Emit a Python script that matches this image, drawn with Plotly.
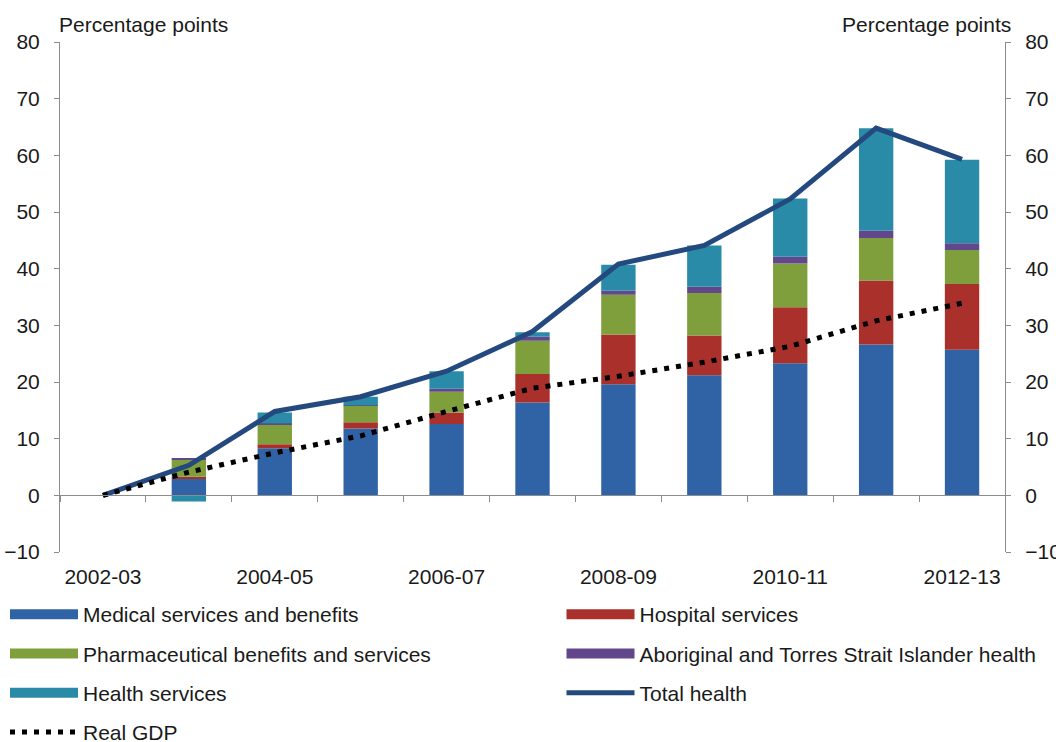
import plotly.graph_objects as go

# Financial years on the category axis
categories = ['2002-03', '2003-04', '2004-05', '2005-06', '2006-07', '2007-08',
              '2008-09', '2009-10', '2010-11', '2011-12', '2012-13']

# Contributions to growth in health spending (percentage points)
medical = [0, 2.9, 8.3, 11.8, 12.6, 16.4, 19.6, 21.2, 23.3, 26.6, 25.7]
hospital = [0, 0.4, 0.7, 1.1, 2.0, 5.0, 8.8, 7.0, 9.9, 11.3, 11.6]
pharma = [0, 3.0, 3.5, 2.9, 3.7, 5.9, 7.0, 7.5, 7.7, 7.5, 6.0]
aboriginal = [0, 0.2, 0.2, 0.1, 0.5, 0.7, 0.7, 1.1, 1.2, 1.3, 1.2]
health_services = [0, -1.1, 1.9, 1.5, 3.1, 0.8, 4.6, 7.3, 10.3, 18.1, 14.7]
total_health = [0, 5.3, 14.8, 17.4, 21.9, 28.9, 40.8, 44.1, 52.3, 64.8, 59.3]
real_gdp = [0, 4.1, 7.5, 10.5, 14.8, 18.9, 21.0, 23.5, 26.3, 30.8, 33.9]

shown_labels = [c if i % 2 == 0 else '' for i, c in enumerate(categories)]
y_ticks = [-10, 0, 10, 20, 30, 40, 50, 60, 70, 80]
y_range = [-10, 80]
x_range = [-0.5, len(categories) - 0.5]

FONT = 'Liberation Sans, Arial, sans-serif'
FS = 21
TXT = '#1a1a1a'
AXIS = '#8c8c8c'

bar_series = [
    ('Medical services and benefits', medical, '#3063A5', 'legend', 'med'),
    ('Hospital services', hospital, '#A9302B', 'legend2', 'hosp'),
    ('Pharmaceutical benefits and services', pharma, '#7E9F3C', 'legend', 'pharm'),
    ('Aboriginal and Torres Strait Islander health', aboriginal, '#62478C', 'legend2', 'abor'),
    ('Health services', health_services, '#2A8BA8', 'legend', 'hs'),
]

fig = go.Figure()

for name, vals, color, leg, grp in bar_series:
    fig.add_trace(go.Bar(
        x=categories, y=vals, name=name, marker=dict(color=color, line=dict(width=0)),
        showlegend=False, legendgroup=grp,
    ))

# Wide swatches for the bar series in the legend
for name, vals, color, leg, grp in bar_series:
    fig.add_trace(go.Scatter(
        x=[None], y=[None], mode='lines', name=name, legend=leg, legendgroup=grp,
        line=dict(color=color, width=10),
    ))

# Lines sit on the overlaid axes (bottom labels and right-hand scale)
fig.add_trace(go.Scatter(
    x=categories, y=total_health, mode='lines', name='Total health',
    xaxis='x2', yaxis='y2',
    line=dict(color='#23497E', width=5), legend='legend2', legendgroup='total',
))
fig.add_trace(go.Scatter(
    x=categories, y=real_gdp, mode='lines', name='Real GDP',
    xaxis='x2', yaxis='y2',
    line=dict(color='#000000', width=5, dash='5px,7px'), legend='legend', legendgroup='gdp',
))

legend_style = dict(
    orientation='v', yanchor='top', xanchor='left',
    font=dict(family=FONT, size=FS, color=TXT),
    bgcolor='rgba(0,0,0,0)', borderwidth=0, tracegroupgap=9, itemwidth=68,
    traceorder='grouped',
)

y_common = dict(
    range=y_range, tickvals=y_ticks, showgrid=False,
    showline=True, linecolor=AXIS, linewidth=1,
    ticks='outside', ticklen=5, tickcolor=AXIS, ticklabelstandoff=10,
    tickfont=dict(family=FONT, size=FS, color=TXT), automargin=False,
)

fig.update_layout(
    width=1056, height=742,
    margin=dict(l=60, r=51, t=42, b=190, autoexpand=False),
    plot_bgcolor='white', paper_bgcolor='white',
    barmode='relative', bargap=0.6,
    font=dict(family=FONT, size=FS, color=TXT),
    # Category axis drawn along the zero line, ticked at category boundaries
    xaxis=dict(
        type='category', range=x_range, anchor='free', position=10 / 90,
        tickmode='linear', tick0=0, dtick=1, tickson='boundaries',
        ticks='outside', ticklen=6, tickwidth=1, tickcolor=AXIS, showticklabels=False,
        showline=True, linecolor=AXIS, linewidth=1,
        showgrid=False, zeroline=False, automargin=False,
    ),
    # Category labels along the bottom edge
    xaxis2=dict(
        type='category', overlaying='x', anchor='y', side='bottom', range=x_range,
        tickvals=categories, ticktext=shown_labels, ticks='',
        showline=False, showgrid=False, zeroline=False,
        ticklabelstandoff=10, tickfont=dict(size=FS, color=TXT), automargin=False,
    ),
    yaxis=dict(zeroline=False, **y_common),
    yaxis2=dict(overlaying='y', side='right', zeroline=False, **y_common),
    legend=dict(x=-55 / 945, y=-42 / 510, **legend_style),
    legend2=dict(x=501.5 / 945, y=-42 / 510, **legend_style),
    annotations=[
        dict(text='Percentage points', xref='paper', yref='paper', x=0, y=1,
             xanchor='left', yanchor='bottom', yshift=4, xshift=-3, showarrow=False,
             font=dict(size=FS, color=TXT)),
        dict(text='Percentage points', xref='paper', yref='paper', x=1, y=1,
             xanchor='right', yanchor='bottom', yshift=4, xshift=8, showarrow=False,
             font=dict(size=FS, color=TXT)),
    ],
)

fig.write_html('out.html')
